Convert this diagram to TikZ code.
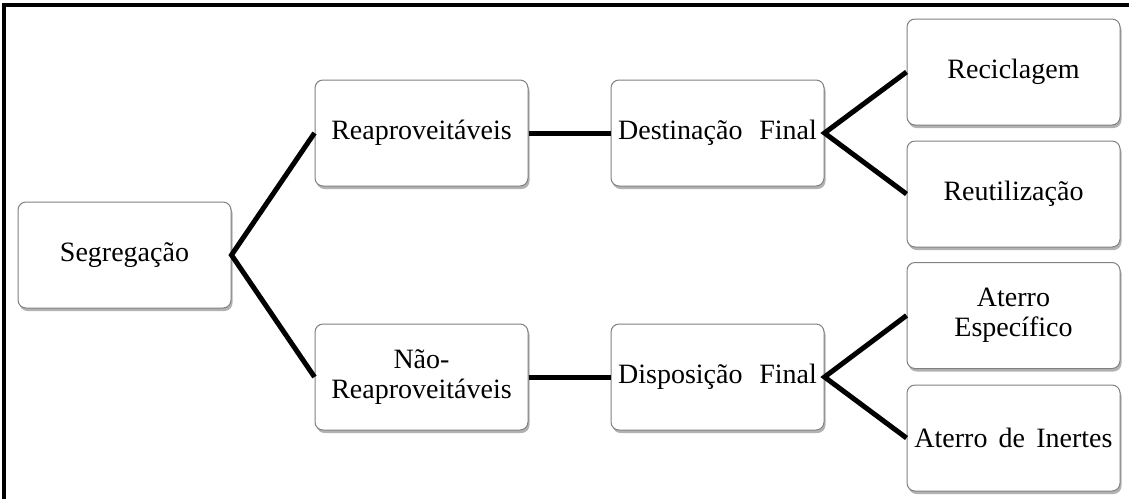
\documentclass[tikz,border=0pt]{standalone}
\usepackage{fontspec}
\setmainfont{Liberation Serif}
\usetikzlibrary{shadows}
\begin{document}
\begin{tikzpicture}[x=1pt,y=-1pt,
  box/.style={draw=black!50, line width=1pt, rounded corners=8pt, fill=white,
    minimum width=213pt, minimum height=106pt, align=center, inner sep=0pt,
    font=\fontsize{28}{30}\selectfont,
    drop shadow={shadow xshift=1.5pt, shadow yshift=-3pt, fill=black, opacity=0.3}},
  conn/.style={line width=5pt, line join=miter}]
\useasboundingbox (0,0) rectangle (1129,499);
\draw[line width=3.5pt] (4,499) -- (4,5) -- (1129,5);

\node[box] (seg)   at (124.5,255)  {Segregação};
\node[box] (reap)  at (421.5,133)  {Reaproveitáveis};
\node[box] (dest)  at (717.5,133)  {Destinação\hspace{0.6em}Final};
\node[box] (nreap) at (421.5,377)  {Não-\\Reaproveitáveis};
\node[box] (disp)  at (717.5,377)  {Disposição\hspace{0.6em}Final};
\node[box] (rec)   at (1013.5,72)  {Reciclagem};
\node[box] (reut)  at (1013.5,194) {Reutilização};
\node[box] (atesp) at (1013.5,315.5) {Aterro\\Específico};
\node[box] (atin)  at (1013.5,438) {Aterro\hspace{0.4em}de\hspace{0.4em}Inertes};

\draw[conn] (reap.west) -- (seg.east) -- (nreap.west);
\draw[conn] (reap.east) -- (dest.west);
\draw[conn] (nreap.east) -- (disp.west);
\draw[conn] (rec.west) -- (dest.east) -- (reut.west);
\draw[conn] (atesp.west) -- (disp.east) -- (atin.west);
\end{tikzpicture}
\end{document}
